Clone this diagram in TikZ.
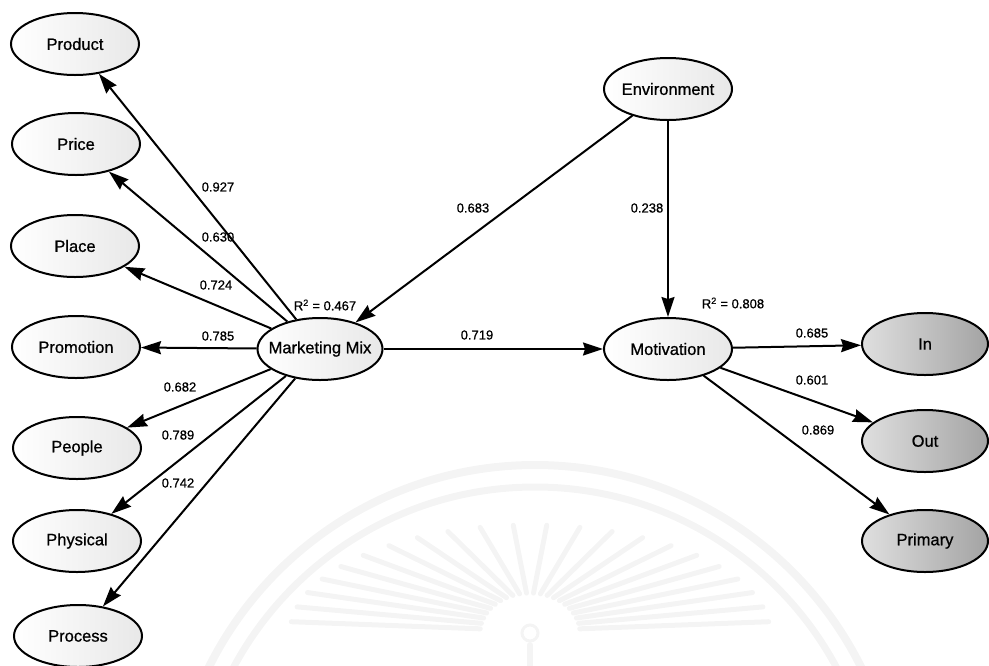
\documentclass[tikz,border=0pt]{standalone}
\usepackage{fontspec}
\setmainfont{Liberation Sans}
\newfontfamily\heavy[FakeBold=0.8]{Liberation Sans}
\usetikzlibrary{arrows.meta,shapes.geometric}
\newcommand\ctr[1]{\makebox[0pt]{#1}}
\begin{document}
\begin{tikzpicture}[x=1pt,y=-1pt,
  latent/.style={ellipse,draw,line width=2pt,minimum width=128pt,minimum height=62pt,
    inner sep=0pt,font=\heavy\fontsize{16.5}{16.5}\selectfont,left color=white,right color=gray!18},
  indic/.style={latent,left color=gray!25,right color=gray!72},
  arr/.style={line width=2pt,-{Stealth[length=20pt,width=13pt,inset=2pt]}},
  coef/.style={font=\heavy\fontsize{13}{13}\selectfont,inner sep=1pt},
  wm/.style={draw=gray!9,line cap=round}]
\useasboundingbox (0,0) rectangle (989,665);

% faint seal in the background
\begin{scope}
  \clip (0,0) rectangle (989,665);
  \draw[wm,line width=8pt] (535,829) circle[radius=364pt];
  \draw[wm,line width=7pt] (535,829) circle[radius=342pt];
  \foreach \a in {6,14,...,174}{
    \draw[wm,line width=5pt] ({530+50*cos(\a)},{633-40*sin(\a)}) -- ({530+240*cos(\a)},{633-108*sin(\a)});
  }
  \draw[wm,line width=3pt] (530,633) circle[radius=8pt];
  \draw[wm,line width=6pt] (530,645) -- (530,670);
\end{scope}

% measurement model of the marketing mix
\node[latent] (product)   at (75,44)   {\ctr{Product}};
\node[latent] (price)     at (76,144)  {\ctr{Price}};
\node[latent] (place)     at (75,246)  {\ctr{Place}};
\node[latent] (promotion) at (76,347)  {\ctr{Promotion}};
\node[latent] (people)    at (77,448)  {\ctr{People}};
\node[latent] (physical)  at (77,541)  {\ctr{Physical}};
\node[latent] (process)   at (78,636)  {\ctr{Process}};

\node[latent,minimum width=125pt] (mm)  at (320,349) {\ctr{Marketing Mix}};
\node[latent] (env)  at (668,89)  {\ctr{Environment}};
\node[latent] (mot)  at (668,349) {\ctr{Motivation}};

\node[indic,minimum width=126pt] (in)      at (925,344) {\ctr{In}};
\node[indic,minimum width=126pt] (out)     at (925,441) {\ctr{Out}};
\node[indic,minimum width=126pt] (primary) at (925,541) {\ctr{Primary}};

% loadings
\draw[arr] (mm) -- (product);
\draw[arr] (mm) -- (price);
\draw[arr] (mm) -- (place);
\draw[arr] (mm) -- (promotion);
\draw[arr] (mm) -- (people);
\draw[arr] (mm) -- (physical);
\draw[arr] (mm) -- (process);

% structural paths
\draw[arr] (env) -- (mm);
\draw[arr] (env) -- (mot);
\draw[arr] (mm) -- (mot);

\draw[arr] (mot) -- (in);
\draw[arr] (mot) -- (out);
\draw[arr] (mot) -- (primary);

% coefficients
\node[coef] (c1)  at (218,187) {0.927};
\node[coef] (c2)  at (218,237) {0.630};
\node[coef] (c3)  at (216,285) {0.724};
\node[coef] (c4)  at (218,336) {0.785};
\node[coef] (c5)  at (180,387) {0.682};
\node[coef] (c6)  at (178,435) {0.789};
\node[coef] (c7)  at (178,483) {0.742};
\node[coef] (r1)  at (325,305) {R\textsuperscript{2} = 0.467};
\node[coef] (c8)  at (473,208) {0.683};
\node[coef] (c9)  at (477,335) {0.719};
\node[coef] (c10) at (647,208) {0.238};
\node[coef] (r2)  at (733,303) {R\textsuperscript{2} = 0.808};
\node[coef] (c11) at (812,333) {0.685};
\node[coef] (c12) at (812,380) {0.601};
\node[coef] (c13) at (818,430) {0.869};
\end{tikzpicture}
\end{document}
